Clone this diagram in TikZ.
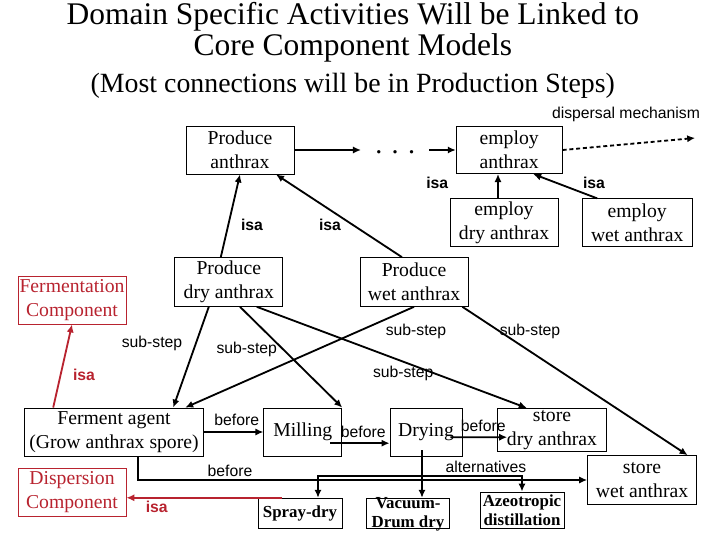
\documentclass[tikz,border=0pt]{standalone}
\usepackage{fontspec}
\setmainfont{Liberation Serif}
\setsansfont{Liberation Sans}
\usetikzlibrary{arrows.meta,positioning,calc}
\definecolor{ink}{HTML}{000000}
\definecolor{compred}{HTML}{B8232F}
\newcommand{\cardfont}{\fontsize{14}{17}\selectfont}
\newcommand{\minifont}{\bfseries\fontsize{12}{13.5}\selectfont}
\newcommand{\tagfont}{\sffamily\fontsize{11.2}{13}\selectfont}
\tikzset{
  card/.style={draw=ink,line width=0.6pt,align=center,inner sep=1pt,
               font=\cardfont,minimum height=1.2cm},
  redcard/.style={card,draw=compred,text=compred},
  minicard/.style={draw=ink,line width=0.6pt,align=center,inner sep=0pt,
                   font=\minifont,minimum height=0.75cm},
  arr/.style={-{Latex[length=2mm,width=1.8mm]},line width=1.3pt,draw=ink},
  redarr/.style={arr,draw=compred},
  dasharr/.style={arr,dash pattern=on 1mm off 0.7mm},
  twoarr/.style={{Latex[length=2mm,width=1.8mm]}-{Latex[length=2mm,width=1.8mm]},
                 line width=1.3pt,draw=ink},
  tag/.style={font=\tagfont,inner sep=1pt},
  isatag/.style={font=\tagfont\bfseries,inner sep=1pt},
  redisa/.style={isatag,text=compred}
}
\begin{document}
\begin{tikzpicture}[x=1cm,y=1cm]
    \path[use as bounding box] (-9,-6.75) rectangle (9,6.75);
    \node[anchor=base,font=\fontsize{22.4}{27}\selectfont] (title1) at (-0.18,6.14)
      {Domain Specific Activities Will be Linked to};
    \node[anchor=base,font=\fontsize{22.4}{27}\selectfont] (title2) at (-0.18,5.36)
      {Core Component Models};
    \node[anchor=base,font=\fontsize{19.8}{24}\selectfont] (subtitle) at (-0.18,4.43)
      {(Most connections will be in Production Steps)};

    % activities
    \node[card,minimum width=2.70cm] (pa) at (-3.00,3.00) {Produce\\anthrax};
    \node[font=\fontsize{20}{20}\selectfont,inner sep=0.35cm] (dots) at (0.88,2.95) {.\,\,.\,\,.};
    \node[card,minimum width=2.65cm,minimum height=1.18cm] (ea) at (3.73,3.00) {employ\\anthrax};
    \node[tag] (mech) at (6.65,3.88) {dispersal mechanism};
    \coordinate (mechend) at (8.38,3.30);
    \node[card,minimum width=2.70cm] (edry) at (3.60,1.18) {employ\\dry anthrax};
    \node[card,minimum width=2.75cm] (ewet) at (6.93,1.18) {employ\\wet anthrax};
    \node[card,minimum width=2.70cm,minimum height=1.22cm] (pdry) at (-3.28,-0.30) {Produce\\dry anthrax};
    \node[card,minimum width=2.70cm,minimum height=1.22cm] (pwet) at (1.35,-0.30) {Produce\\wet anthrax};
    \node[redcard,minimum width=2.70cm] (ferm) at (-7.20,-0.75) {Fermentation\\Component};
    \node[card,minimum width=4.48cm] (agent) at (-6.15,-4.05) {Ferment agent\\(Grow anthrax spore)};
    \node[redcard,minimum width=2.70cm] (disp) at (-7.20,-5.55) {Dispersion\\Component};
    \node[card,minimum width=1.95cm] (mill) at (-1.43,-4.05) {Milling};
    \node[card,minimum width=1.80cm] (drying) at (1.65,-4.05) {Drying};
    \node[card,minimum width=2.72cm,minimum height=1.08cm] (sdry) at (4.80,-4.00) {store\\dry anthrax};
    \node[card,minimum width=2.72cm,minimum height=1.22cm] (swet) at (7.05,-5.25) {store\\wet anthrax};
    \node[minicard,minimum width=2.10cm] (spray) at (-1.50,-6.08) {Spray-dry};
    \node[minicard,minimum width=2.08cm] (vac) at (1.20,-6.08) {};
    \node[font=\minifont,align=center,inner sep=0pt] (vactext) at (1.20,-6.10) {Vacuum-\\Drum dry};
    \node[minicard,minimum width=2.10cm,minimum height=0.90cm] (azeo) at (4.05,-6.00) {Azeotropic\\distillation};

    % isa links
    \draw[arr] (pa.east) -- (pa.east -| dots.west);
    \draw[arr] (pa.east -| dots.east) -- (ea.west);
    \draw[dasharr] (ea.east) -- (mechend);
    \draw[arr] ([xshift=-0.20cm]pdry.north) -- (pa.south);
    \draw[arr] ([xshift=-0.30cm]pwet.north) -- ([xshift=0.90cm]pa.south);
    \draw[arr] ([xshift=-0.15cm]edry.north) -- ([xshift=-0.15cm]edry.north |- ea.south);
    \draw[arr] ([xshift=-1.00cm]ewet.north) -- ([xshift=0.60cm]ea.south);
    \node[isatag] (isa1) at (-2.70,1.13) {isa};
    \node[isatag] (isa2) at (-0.75,1.13) {isa};
    \node[isatag] (isa3) at (1.93,2.18) {isa};
    \node[isatag] (isa4) at (5.85,2.18) {isa};
    \draw[redarr] ([xshift=-1.52cm]agent.north) -- (ferm.south);
    \draw[redarr] ([xshift=0.60cm]spray.north west) -- (spray.north west -| disp.east);
    \node[redisa] (isa5) at (-6.90,-2.63) {isa};
    \node[redisa] (isa6) at (-5.08,-5.93) {isa};

    % sub-steps
    \draw[arr] ([xshift=-0.50cm]pdry.south) -- ([xshift=1.48cm]agent.north);
    \draw[arr] ([xshift=0.28cm]pdry.south) -- (mill.north east);
    \draw[arr] ([xshift=0.70cm]pdry.south) -- ([xshift=-0.63cm]sdry.north);
    \draw[arr] (pwet.south) -- ([xshift=1.78cm]agent.north);
    \draw[arr] ([xshift=-0.15cm]pwet.south east) -- ([xshift=-0.23cm]swet.north east);
    \node[tag] (ss1) at (-5.20,-1.83) {sub-step};
    \node[tag] (ss2) at (-2.83,-1.98) {sub-step};
    \node[tag] (ss3) at (1.40,-1.53) {sub-step};
    \node[tag] (ss4) at (4.25,-1.53) {sub-step};
    \node[tag] (ss5) at (1.08,-2.58) {sub-step};

    % ordering
    \draw[arr] (agent) -- (mill);
    \draw[arr] ([xshift=-0.30cm,yshift=-0.28cm]mill.east) -- ([yshift=-0.28cm]drying.west);
    \draw[arr] ([xshift=-0.30cm,yshift=-0.13cm]drying.east) -- ([xshift=0.25cm,yshift=-0.18cm]sdry.west);
    \draw[arr] ([xshift=0.60cm]agent.south) |- (swet.west);
    \coordinate (alt) at (0,-5.15);
    \draw[twoarr] ([xshift=0.45cm]spray.north) |- (alt -| azeo.north) -- (azeo.north);
    \draw[arr] ([xshift=-0.10cm,yshift=0.15cm]drying.south) -- ([xshift=-0.10cm]drying.south |- vac.north);
    \node[tag] (bf1) at (-3.08,-3.75) {before};
    \node[tag] (bf2) at (0.08,-4.05) {before};
    \node[tag] (bf3) at (3.08,-3.90) {before};
    \node[tag] (bf4) at (-3.25,-5.03) {before};
    \node[tag] (altern) at (3.15,-4.93) {alternatives};
  \end{tikzpicture}
\end{document}
